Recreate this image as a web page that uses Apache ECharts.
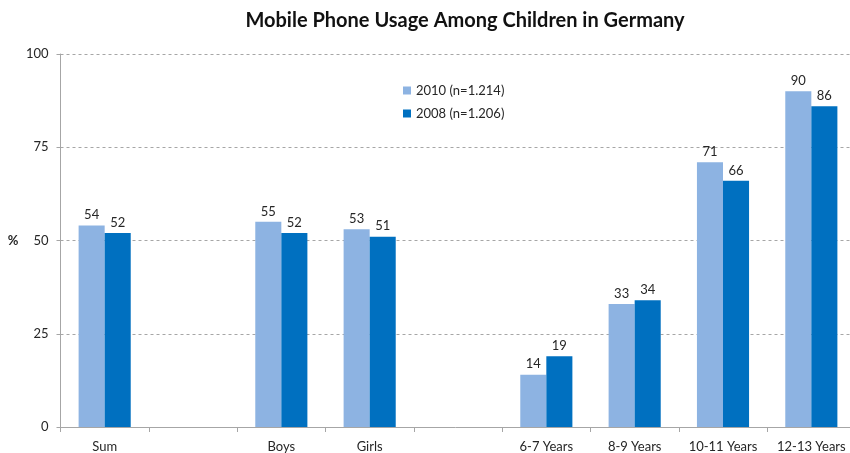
<!DOCTYPE html>
<html>
<head>
<meta charset="utf-8">
<script src="https://cdn.jsdelivr.net/npm/echarts@6/dist/echarts.min.js"></script>
<style>
  html, body { margin: 0; padding: 0; background: #fff; }
  #chart { width: 850px; height: 453px; }
</style>
</head>
<body>
<div id="chart"></div>
<script>
// Groups along the x axis; empty strings leave spacer slots between groups
const categories = ['Sum', '', 'Boys', 'Girls', '', '6-7 Years', '8-9 Years', '10-11 Years', '12-13 Years'];
const values2010 = [54, null, 55, 53, null, 14, 33, 71, 90];
const values2008 = [52, null, 52, 51, null, 19, 34, 66, 86];
const yTicks = [0, 25, 50, 75, 100];

const FONT = 'Lato, "Open Sans", "Liberation Sans", sans-serif';

const chart = echarts.init(document.getElementById('chart'), null, { renderer: 'canvas' });

const labelStyle = {
  show: true,
  position: 'top',
  distance: 4,
  color: '#262626',
  fontSize: 13,
  fontFamily: FONT
};

chart.setOption({
  animation: false,
  backgroundColor: '#ffffff',
  title: {
    text: 'Mobile Phone Usage Among Children in Germany',
    left: 460,
    textAlign: 'center',
    top: 6,
    textStyle: { fontFamily: FONT, fontWeight: 'bold', fontSize: 20, color: '#111' }
  },
  legend: {
    orient: 'vertical',
    left: 398,
    top: 79,
    itemWidth: 8,
    itemHeight: 8,
    itemGap: 10,
    icon: 'rect',
    textStyle: { fontFamily: FONT, fontSize: 13, color: '#262626' },
    data: ['2010 (n=1.214)', '2008 (n=1.206)']
  },
  // plot area runs slightly past the right edge of the canvas
  grid: { left: 60.5, width: 795, top: 54, bottom: 26, containLabel: false, outerBoundsMode: 'none' },
  xAxis: {
    type: 'category',
    data: categories,
    axisLine: { lineStyle: { color: '#a6a6a6', width: 1 } },
    axisTick: { show: true, length: 5, lineStyle: { color: '#a6a6a6' } },
    axisLabel: { color: '#262626', fontSize: 13, fontFamily: FONT, margin: 13, interval: 0 }
  },
  yAxis: {
    type: 'value',
    min: yTicks[0],
    max: yTicks[yTicks.length - 1],
    interval: 25,
    name: '%',
    nameLocation: 'middle',
    nameRotate: 0,
    nameGap: 42,
    nameTextStyle: { color: '#262626', fontSize: 13, fontWeight: 'bold', fontFamily: FONT },
    axisLine: { show: true, lineStyle: { color: '#a6a6a6', width: 1 } },
    axisTick: { show: true, length: 4, lineStyle: { color: '#a6a6a6' } },
    axisLabel: { color: '#262626', fontSize: 13, fontFamily: FONT, margin: 12 },
    splitLine: { show: true, lineStyle: { color: '#a6a6a6', type: [3, 3], width: 1 } }
  },
  series: [
    {
      name: '2010 (n=1.214)',
      type: 'bar',
      data: values2010,
      barGap: '0%',
      barCategoryGap: '41%',
      itemStyle: { color: '#8db3e2' },
      label: labelStyle
    },
    {
      name: '2008 (n=1.206)',
      type: 'bar',
      data: values2008,
      barGap: '0%',
      barCategoryGap: '41%',
      itemStyle: { color: '#0070c0' },
      label: labelStyle
    }
  ]
});
</script>
</body>
</html>
